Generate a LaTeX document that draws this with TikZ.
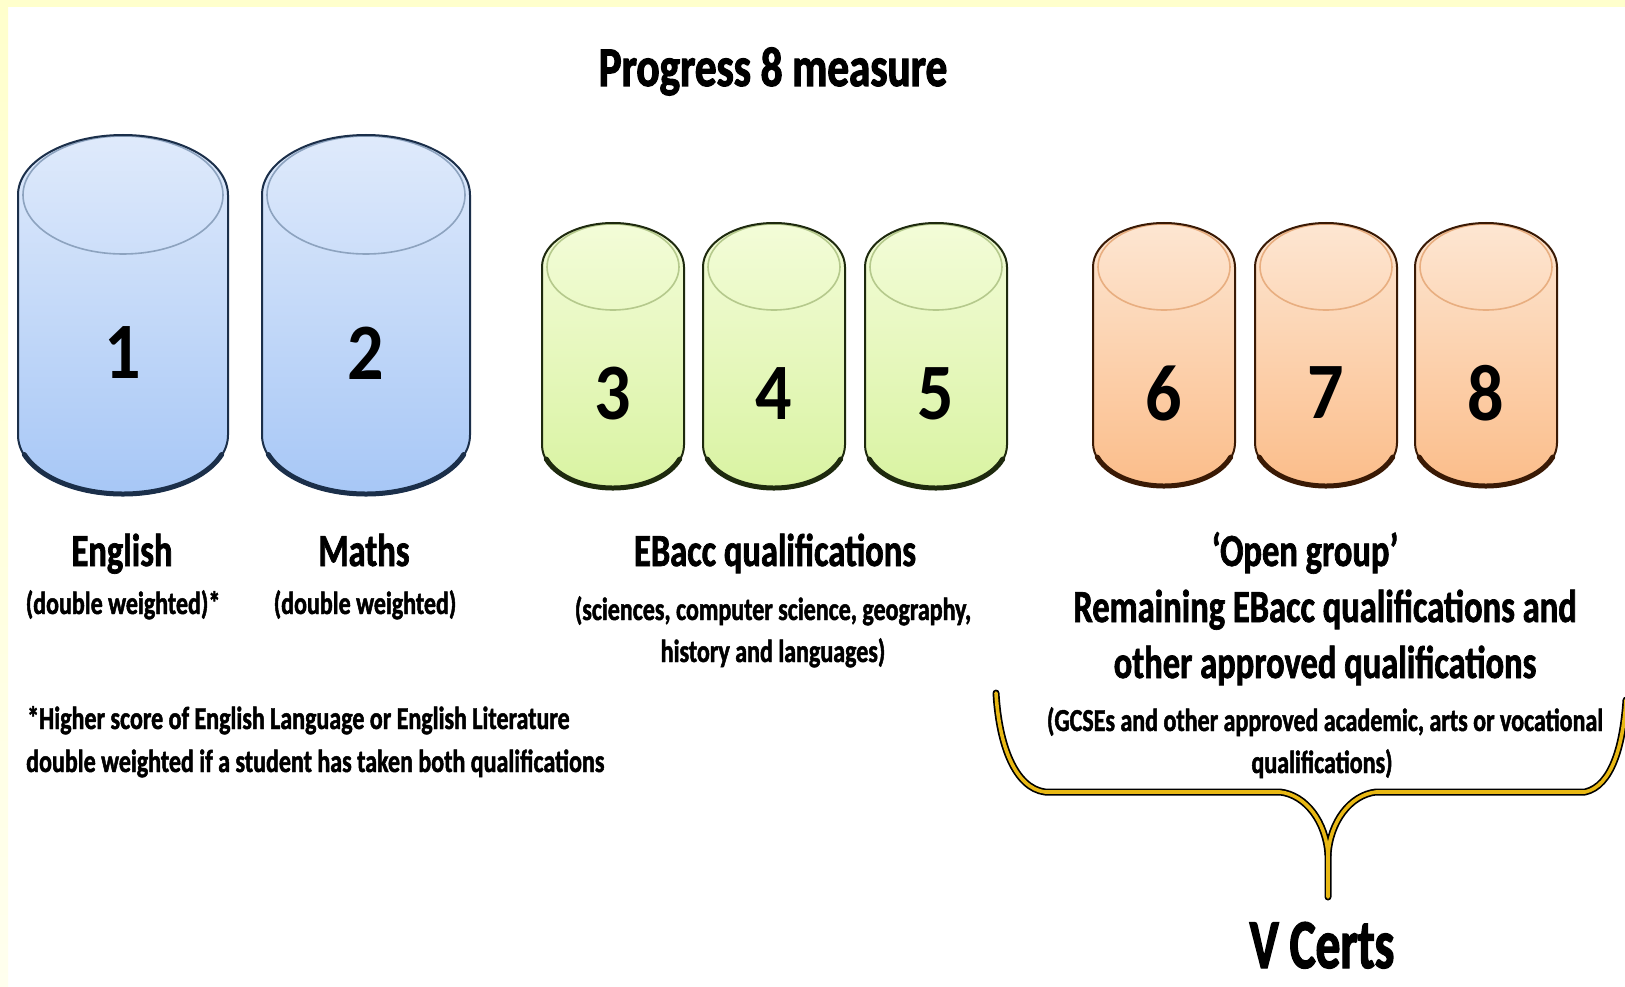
\documentclass[tikz,border=0pt]{standalone}
\usepackage{fontspec}
\newfontfamily\labfont{Carlito}[UprightFont={* Bold}, FakeStretch=0.75, FakeBold=1.5]
\newfontfamily\titlefont{Carlito}[UprightFont={* Bold}, FakeStretch=0.77, FakeBold=2]
\newfontfamily\numfont{Carlito}[UprightFont={* Bold}, FakeStretch=0.9]
\newfontfamily\vfont{Carlito}[UprightFont={* Bold}, FakeStretch=0.7, FakeBold=2]
\definecolor{bordery}{HTML}{FFFFCC}
\definecolor{borderyl}{HTML}{FFFFEE}
\definecolor{bluetop}{HTML}{DFEAFB}
\definecolor{bluebot}{HTML}{A7C7F6}
\definecolor{blueedge}{HTML}{1B2F4A}
\definecolor{blueinner}{HTML}{8DA3BF}
\definecolor{greentop}{HTML}{F3FCD8}
\definecolor{greenbot}{HTML}{D9F3A2}
\definecolor{greenedge}{HTML}{1E2A0E}
\definecolor{greeninner}{HTML}{B5C98C}
\definecolor{orangetop}{HTML}{FDE6D2}
\definecolor{orangebot}{HTML}{FBBD8A}
\definecolor{orangeedge}{HTML}{3A1A05}
\definecolor{orangeinner}{HTML}{E8AE80}
\definecolor{bracegold}{HTML}{E8B814}
\tikzset{
  headtxt/.style={font=\labfont\fontsize{46}{50}\selectfont, anchor=base, inner sep=0pt},
  subtxt/.style={font=\labfont\fontsize{32}{34}\selectfont, anchor=base, inner sep=0pt},
  numtxt/.style={font=\numfont\fontsize{80}{80}\selectfont, inner sep=0pt},
  braceouter/.style={draw=black, line width=7pt, line cap=round, line join=round},
  braceinner/.style={draw=bracegold, line width=3.6pt, line cap=round, line join=round},
}
% #1 cx, #2 top, #3 bottom, #4 rx, #5 ry, #6 colour prefix, #7 name, #8 number, #9 number y
\newcommand\drawcyl[9]{%
  \shade[top color=#6top, bottom color=#6bot]
    (#1-#4, #2+#5) -- (#1-#4, #3-#5)
    arc[start angle=180, end angle=360, x radius=#4pt, y radius=#5pt]
    -- (#1+#4, #2+#5)
    arc[start angle=0, end angle=180, x radius=#4pt, y radius=#5pt] -- cycle;
  \draw[#6inner, line width=1.6pt] (#1, #2+#5) ellipse[x radius=#4pt-5pt, y radius=#5pt-1pt];
  \draw[#6edge, line width=2pt]
    (#1-#4, #2+#5) -- (#1-#4, #3-#5)
    arc[start angle=180, end angle=360, x radius=#4pt, y radius=#5pt]
    -- (#1+#4, #2+#5)
    arc[start angle=0, end angle=180, x radius=#4pt, y radius=#5pt] -- cycle;
  \draw[#6edge, line width=5pt, line cap=round]
    ([shift={(200:#4pt and #5pt)}] #1, #3-#5-1)
    arc[start angle=200, end angle=340, x radius=#4pt, y radius=#5pt];
  \node[numtxt] (#7) at (#1, #9) {#8};
}
\begin{document}
\begin{tikzpicture}[x=1pt, y=-1pt]
\useasboundingbox (0,0) rectangle (1625,987);
\fill[white] (0,0) rectangle (1625,987);
\fill[bordery] (0,0) rectangle (1625,7);
\shade[top color=bordery, bottom color=borderyl] (0,0) rectangle (8,987);

% title
\node[font=\titlefont\fontsize{56}{60}\selectfont, anchor=base, inner sep=0pt] (title) at (773,86) {Progress 8 measure};

% cylinders
\drawcyl{123}{135}{495}{105}{60}{blue}{c1}{1}{353}
\drawcyl{366}{135}{495}{104}{60}{blue}{c2}{2}{353}
\drawcyl{613}{223}{489}{71}{44}{green}{c3}{3}{394}
\drawcyl{774}{223}{489}{71}{44}{green}{c4}{4}{394}
\drawcyl{936}{223}{489}{71}{44}{green}{c5}{5}{394}
\drawcyl{1164}{223}{487}{71}{44}{orange}{c6}{6}{393}
\drawcyl{1326}{223}{487}{71}{44}{orange}{c7}{7}{393}
\drawcyl{1486}{223}{487}{71}{44}{orange}{c8}{8}{393}

% labels
\node[headtxt] (eng) at (122,566) {English};
\node[subtxt] (engsub) at (123,614) {(double weighted)*};
\node[headtxt] (mat) at (364,566) {Maths};
\node[subtxt] (matsub) at (365,614) {(double weighted)};
\node[headtxt] (ebacc) at (775,566) {EBacc qualifications};
\node[subtxt] (ebacc1) at (773,620) {(sciences, computer science, geography,};
\node[subtxt] (ebacc2) at (773,662) {history and languages)};
\node[headtxt] (open) at (1305,566) {‘Open group’};
\node[headtxt] (open1) at (1325,622) {Remaining EBacc qualifications and};
\node[headtxt] (open2) at (1325,678) {other approved qualifications};
\node[subtxt] (open3) at (1325,731) {(GCSEs and other approved academic, arts or vocational};
\node[subtxt] (open4) at (1322,773) {qualifications)};
\node[subtxt, anchor=base west] (foot1) at (27,729) {*Higher score of English Language or English Literature};
\node[subtxt, anchor=base west] (foot2) at (26,772) {double weighted if a student has taken both qualifications};

% brace
\coordinate (bl) at (996,693);
\coordinate (br) at (1626,700);
\coordinate (bj) at (1328,855);
\coordinate (bt) at (1328,897);
\foreach \st in {braceouter, braceinner}{
  \draw[\st] (bl) .. controls (999,745) and (1015,788) .. (1045,792) -- (1280,792)
     .. controls (1306,795) and (1326,822) .. (bj) -- (bt);
  \draw[\st] (bj) .. controls (1330,822) and (1350,795) .. (1376,792) -- (1585,792)
     .. controls (1612,786) and (1623,745) .. (br);
}
\node[font=\vfont\fontsize{70}{72}\selectfont, anchor=base, inner sep=0pt] (vcerts) at (1322,968) {V Certs};
\end{tikzpicture}
\end{document}
